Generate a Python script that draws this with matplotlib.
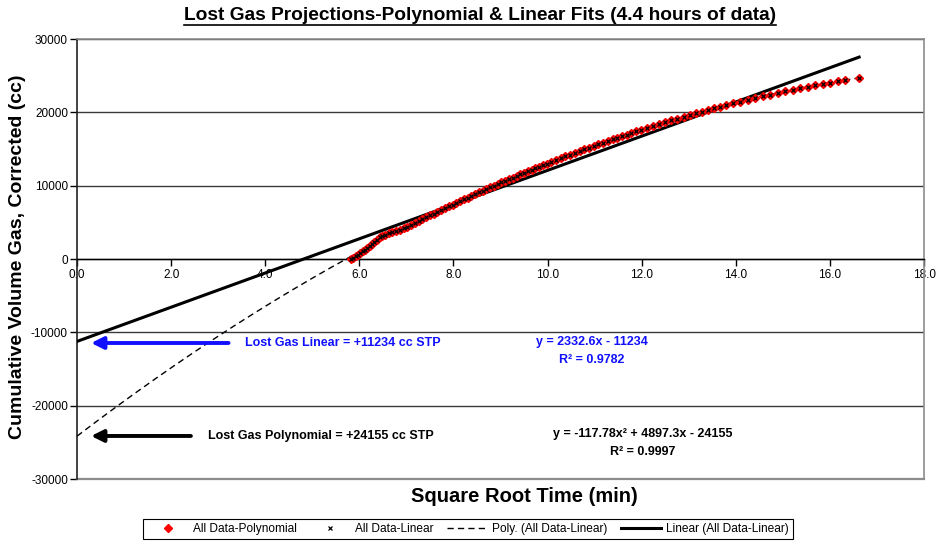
import numpy as np
import matplotlib.pyplot as plt
from matplotlib.lines import Line2D
from matplotlib.ticker import FuncFormatter, MultipleLocator

plt.rcParams['font.family'] = ['Liberation Sans', 'DejaVu Sans']

# measured desorption data: sqrt(time) in min^0.5 vs cumulative gas (cc, corrected)
sqrt_time = [
    5.82, 5.87, 5.92, 5.97, 6.02, 6.07, 6.12, 6.17, 6.22, 6.27, 6.32, 6.37, 6.43, 6.48,
    6.54, 6.62, 6.70, 6.78, 6.86, 6.94, 7.02, 7.10, 7.18, 7.26, 7.34, 7.42, 7.50, 7.58,
    7.66, 7.74, 7.82, 7.90, 7.98, 8.06, 8.14, 8.22, 8.30, 8.38, 8.46, 8.54, 8.62, 8.70,
    8.78, 8.86, 8.94, 9.02, 9.10, 9.18, 9.26, 9.34, 9.42, 9.50, 9.58, 9.66, 9.74, 9.82,
    9.90, 9.98,
    10.08, 10.18, 10.28, 10.38, 10.48, 10.58, 10.68, 10.78, 10.88, 10.98,
    11.08, 11.18, 11.28, 11.38, 11.48, 11.58, 11.68, 11.78, 11.88, 11.98,
    12.11, 12.24, 12.37, 12.50, 12.63, 12.76, 12.89, 13.02, 13.15, 13.28,
    13.41, 13.54, 13.67, 13.80, 13.93,
    14.09, 14.25, 14.41, 14.57, 14.73, 14.89, 15.05, 15.21, 15.37, 15.53,
    15.69, 15.85, 16.01, 16.17, 16.33, 16.62,
]
gas_volume = [
    0, 190, 390, 600, 820, 1050, 1290, 1540, 1800, 2070, 2350, 2640, 2980, 3180,
    3330, 3500, 3660, 3830, 4000, 4190, 4400, 4630, 4880, 5150, 5420, 5690, 5950, 6200,
    6450, 6700, 6950, 7190, 7430, 7670, 7910, 8150, 8380, 8620, 8850, 9080, 9310, 9540,
    9760, 9990, 10210, 10440, 10660, 10880, 11090, 11310, 11530, 11740, 11950, 12160, 12370, 12580,
    12790, 12990,
    13240, 13490, 13740, 13990, 14230, 14470, 14710, 14950, 15190, 15420,
    15650, 15880, 16100, 16320, 16540, 16760, 16980, 17190, 17400, 17610,
    17880, 18140, 18400, 18660, 18910, 19160, 19400, 19640, 19880, 20110,
    20340, 20560, 20780, 21000, 21210,
    21470, 21710, 21960, 22190, 22420, 22650, 22870, 23080, 23290, 23490,
    23690, 23870, 24060, 24230, 24400, 24650,
]

# trendline coefficients
lin_slope, lin_icpt = 2332.6, -11234
lin_r2 = 0.9782
poly_a, poly_b, poly_c = -117.78, 4897.3, -24155
poly_r2 = 0.9997

fig = plt.figure(figsize=(9.37, 5.42), dpi=100)
ax = fig.add_axes([0.0822, 0.1162, 0.9040, 0.8118])

xs = np.linspace(0, sqrt_time[-1], 200)
ax.plot(xs, poly_a * xs**2 + poly_b * xs + poly_c, color='black', lw=1.0,
        dashes=(4.5, 3), zorder=3)
ax.plot(xs, lin_slope * xs + lin_icpt, color='black', lw=2.2, zorder=3)

ax.plot(sqrt_time, gas_volume, ls='none', marker='D', ms=4.5, color='red',
        mec='red', zorder=4)
ax.plot(sqrt_time, gas_volume, ls='none', marker='x', ms=2.6, mew=0.9,
        color='black', zorder=5)

ax.set_xlim(0, 18)
ax.set_ylim(-30000, 30000)
ax.xaxis.set_major_locator(MultipleLocator(2))
ax.yaxis.set_major_locator(MultipleLocator(10000))
ax.xaxis.set_major_formatter(FuncFormatter(lambda v, p: f"{v:.1f}"))
ax.yaxis.set_major_formatter(FuncFormatter(lambda v, p: f"{v:.0f}"))

ax.yaxis.grid(True, color='#3a3a3a', lw=1.0)
ax.set_axisbelow(True)

ax.spines['bottom'].set_position(('data', 0))
ax.spines['bottom'].set_color('black')
ax.spines['bottom'].set_linewidth(1.0)
ax.spines['left'].set_color('#222222')
ax.spines['left'].set_linewidth(1.2)
for side in ('top', 'right'):
    ax.spines[side].set_color('#8c8c8c')
    ax.spines[side].set_linewidth(1.2)
ax.axhline(-30000, color='#8c8c8c', lw=1.6, clip_on=False, zorder=1)

ax.tick_params(axis='both', direction='out', length=5, width=1, labelsize=8.5,
               colors='black')
ax.tick_params(axis='x', pad=2)
ax.tick_params(axis='y', pad=1.5)

# lost gas arrows and notes
note_size = 9
ax.annotate('', xy=(0.30, -11450), xytext=(3.22, -11450),
            arrowprops=dict(arrowstyle='-|>', color='#1010ff', lw=2.8,
                            mutation_scale=18, shrinkA=0, shrinkB=0))
ax.text(3.57, -11450, f"Lost Gas Linear = +{-lin_icpt} cc STP", color='#1010ff',
        fontsize=note_size, fontweight='bold', va='center', ha='left')
ax.annotate('', xy=(0.30, -24130), xytext=(2.42, -24130),
            arrowprops=dict(arrowstyle='-|>', color='black', lw=2.8,
                            mutation_scale=18, shrinkA=0, shrinkB=0))
ax.text(2.78, -24130, f"Lost Gas Polynomial = +{-poly_c} cc STP", color='black',
        fontsize=note_size, fontweight='bold', va='center', ha='left')

# trendline equations
ax.text(10.94, -11300, f"y = {lin_slope}x - {-lin_icpt}", color='#1010ff',
        fontsize=note_size, fontweight='bold', ha='center', va='center')
ax.text(10.94, -13750, f"R² = {lin_r2:.4f}", color='#1010ff',
        fontsize=note_size, fontweight='bold', ha='center', va='center')
ax.text(12.03, -23850, f"y = {poly_a}x² + {poly_b}x - {-poly_c}", color='black',
        fontsize=note_size, fontweight='bold', ha='center', va='center')
ax.text(12.03, -26300, f"R² = {poly_r2:.4f}", color='black',
        fontsize=note_size, fontweight='bold', ha='center', va='center')

fig.text(524 / 937, 1 - 497 / 542, "Square Root Time (min)", fontsize=14.5,
         fontweight='bold', ha='center', va='center')
fig.text(18 / 937, 1 - 257 / 542, "Cumulative Volume Gas, Corrected (cc)",
         fontsize=14, fontweight='bold', ha='center', va='center', rotation=90)
title = fig.text(480 / 937, 1 - 16 / 542,
                 "Lost Gas Projections-Polynomial & Linear Fits (4.4 hours of data)",
                 fontsize=13.8, fontweight='bold', ha='center', va='center')

handles = [
    Line2D([], [], ls='none', marker='D', ms=4.5, color='red'),
    Line2D([], [], ls='none', marker='x', ms=2.6, mew=0.9, color='black'),
    Line2D([], [], color='black', lw=1.0, dashes=(4.5, 3)),
    Line2D([], [], color='black', lw=2.2),
]
labels = ["All Data-Polynomial", "All Data-Linear", "Poly. (All Data-Linear)",
          "Linear (All Data-Linear)"]
leg = fig.legend(handles, labels, loc='center', bbox_to_anchor=(468 / 937, 1 - 529 / 542),
                 ncol=4, fontsize=8.6, frameon=True, fancybox=False, edgecolor='black',
                 framealpha=1, handlelength=3.4, handletextpad=0.4, columnspacing=1.1,
                 borderpad=0.35)
leg.get_frame().set_linewidth(0.8)

# underline the title
fig.canvas.draw()
bb = title.get_window_extent().transformed(fig.transFigure.inverted())
fig.add_artist(Line2D([bb.x0, bb.x1], [bb.y0 - 0.001, bb.y0 - 0.001],
                      transform=fig.transFigure, color='black', lw=1.2))

fig.savefig('out.png', dpi=100)
